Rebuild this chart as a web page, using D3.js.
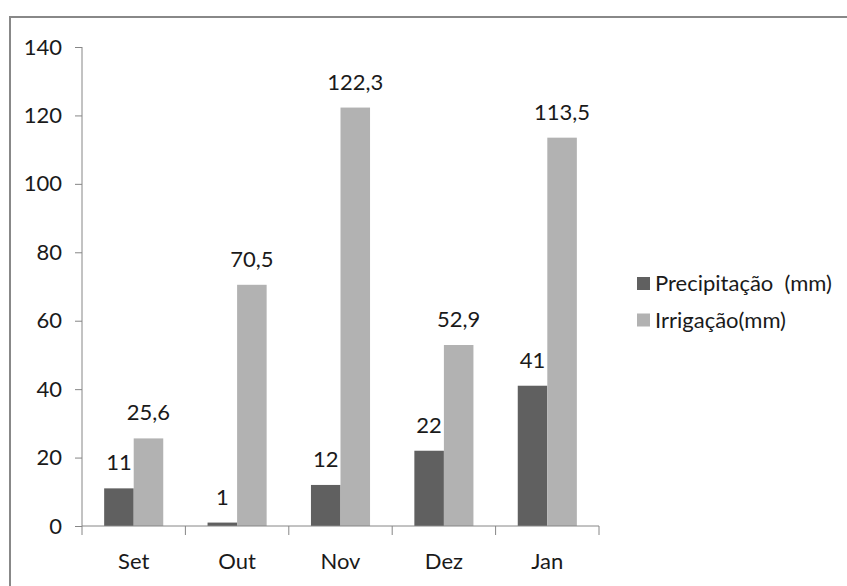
<!DOCTYPE html>
<html><head><meta charset="utf-8">
<script src="https://cdn.jsdelivr.net/npm/d3@7"></script>
<style>html,body{margin:0;padding:0;background:#fff;}svg{display:block;}</style>
</head><body>
<svg id="c" width="847" height="586"></svg>
<script>
const categories = ["Set","Out","Nov","Dez","Jan"];
const seriesNames = ["Precipitação  (mm)","Irrigação(mm)"];
const precipitacao = [11,1,12,22,41];
const irrigacao = [25.6,70.5,122.3,52.9,113.5];
const precipLabels = ["11","1","12","22","41"];
const irrigLabels = ["25,6","70,5","122,3","52,9","113,5"];
const yTicks = [0,20,40,60,80,100,120,140];
const colors = ["#606060","#b2b2b2"];

const svg = d3.select("#c");
const font = "Lato, 'Open Sans', sans-serif";
const fs = "22px";
const axisColor = "#868686";

// outer border (extends past right/bottom edges)
svg.append("rect").attr("x",10).attr("y",17).attr("width",900).attr("height",700)
  .attr("fill","#fff").attr("stroke","#888").attr("stroke-width",2);

const y = d3.scaleLinear().domain([0,140]).range([526,47]);
const x0 = d3.scaleBand().domain(categories).range([82,599]).padding(0);
const x1 = d3.scaleBand().domain(seriesNames).range([0,x0.bandwidth()]).paddingInner(0).paddingOuter(0.75);

// y axis
const yAxis = d3.axisLeft(y).tickValues(yTicks).tickSize(7).tickPadding(13).tickFormat(d3.format("d"));
const gy = svg.append("g").attr("transform","translate(82,0)").call(yAxis);
gy.select(".domain").attr("stroke",axisColor).attr("d","M0,526V47");
gy.selectAll(".tick line").attr("stroke",axisColor);
gy.selectAll(".tick text").attr("fill","#1a1a1a").style("font-family",font).style("font-size",fs);

// bars
const data = categories.map((c,i)=>({c, vals:[
  {s:seriesNames[0], v:precipitacao[i], l:precipLabels[i]},
  {s:seriesNames[1], v:irrigacao[i], l:irrigLabels[i]}]}));
const groups = svg.append("g").selectAll("g").data(data).join("g")
  .attr("transform",d=>`translate(${x0(d.c)},0)`);
groups.selectAll("rect").data(d=>d.vals).join("rect")
  .attr("x",d=>x1(d.s)).attr("width",x1.bandwidth())
  .attr("y",d=>y(d.v)).attr("height",d=>y(0)-y(d.v))
  .attr("fill",(d,i)=>colors[i]);
groups.selectAll("text").data(d=>d.vals).join("text")
  .attr("x",d=>x1(d.s)+x1.bandwidth()/2).attr("y",d=>y(d.v)-18)
  .attr("text-anchor","middle").attr("fill","#1a1a1a")
  .style("font-family",font).style("font-size",fs).text(d=>d.l);

// x axis
const gx = svg.append("g");
gx.append("line").attr("x1",82).attr("x2",599).attr("y1",y(0)).attr("y2",y(0)).attr("stroke",axisColor);
const bounds = categories.map(c=>x0(c)).concat([x0(categories[categories.length-1])+x0.bandwidth()]);
gx.selectAll("line.t").data(bounds).join("line").attr("class","t")
  .attr("x1",d=>d).attr("x2",d=>d).attr("y1",y(0)).attr("y2",y(0)+9).attr("stroke",axisColor);
gx.selectAll("text").data(categories).join("text")
  .attr("x",d=>x0(d)+x0.bandwidth()/2).attr("y",569)
  .attr("text-anchor","middle").attr("fill","#1a1a1a")
  .style("font-family",font).style("font-size",fs).text(d=>d);

// legend
const lg = svg.append("g").selectAll("g").data(seriesNames).join("g")
  .attr("transform",(d,i)=>`translate(637,${277+i*36.5})`);
lg.append("rect").attr("width",13).attr("height",13).attr("fill",(d,i)=>colors[i]);
lg.append("text").attr("x",18).attr("y",14).attr("fill","#1a1a1a")
  .style("font-family",font).style("font-size",fs).style("white-space","pre")
  .attr("xml:space","preserve").text(d=>d);
</script>
</body></html>
